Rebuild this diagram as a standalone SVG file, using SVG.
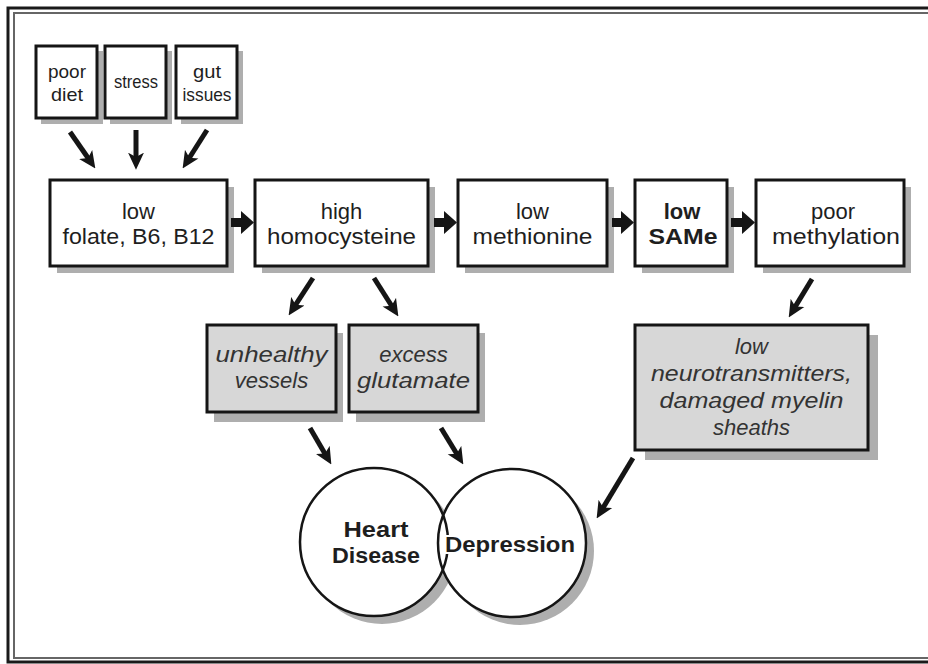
<svg xmlns="http://www.w3.org/2000/svg" width="928" height="664" viewBox="0 0 928 664">
<defs>
<style>
.box{fill:#fff;stroke:#151515;stroke-width:3}
.gbox{fill:#d7d7d7;stroke:#151515;stroke-width:3}
.sh{fill:#aeaeae}
.t{font-family:"Liberation Sans","DejaVu Sans",sans-serif;font-size:22px;fill:#1e1e1e;text-anchor:middle}
.tb{font-weight:bold}
.ti{font-style:italic;fill:#333}
.ts{font-family:"Liberation Sans","DejaVu Sans",sans-serif;font-size:19px;fill:#1e1e1e;text-anchor:middle}
.arr{stroke:#151515;stroke-width:5;fill:none;marker-end:url(#ah)}
.harr{fill:#151515}
.circs{fill:none;stroke:#151515;stroke-width:2.5}
</style>
<marker id="ah" viewBox="0 0 16 16" refX="6" refY="8" markerWidth="17" markerHeight="17" markerUnits="userSpaceOnUse" orient="auto">
<path d="M0,0.5 L16,8 L0,15.5 L4,8 z" fill="#151515"/>
</marker>
</defs>
<rect width="928" height="664" fill="#fff"/>
<g id="frame" fill="none">
<path d="M928,8 H8 V662 H928" stroke="#1a1a1a" stroke-width="3"/>
<path d="M928,13 H14 V658 H928" stroke="#666" stroke-width="2"/>
</g>

<g id="poor-diet">
<rect class="sh" x="41" y="51" width="62" height="73"/>
<rect class="box" x="36" y="46" width="61" height="72"/>
<text class="ts" x="67" y="78" textLength="38" lengthAdjust="spacingAndGlyphs">poor</text>
<text class="ts" x="67" y="101" textLength="32" lengthAdjust="spacingAndGlyphs">diet</text>
</g>
<g id="stress">
<rect class="sh" x="110" y="51" width="62" height="73"/>
<rect class="box" x="105" y="46" width="61" height="72"/>
<text class="ts" x="136" y="88" textLength="44" lengthAdjust="spacingAndGlyphs">stress</text>
</g>
<g id="gut-issues">
<rect class="sh" x="181" y="51" width="62" height="73"/>
<rect class="box" x="176" y="46" width="61" height="72"/>
<text class="ts" x="207" y="78" textLength="28" lengthAdjust="spacingAndGlyphs">gut</text>
<text class="ts" x="207" y="101" textLength="49" lengthAdjust="spacingAndGlyphs">issues</text>
</g>

<g id="low-folate">
<rect class="sh" x="57" y="187" width="177" height="86"/>
<rect class="box" x="50" y="180" width="177" height="86"/>
<text class="t" x="138.5" y="219">low</text>
<text class="t" x="138.5" y="244" textLength="152" lengthAdjust="spacingAndGlyphs">folate, B6, B12</text>
</g>
<g id="high-homocysteine">
<rect class="sh" x="262" y="187" width="173" height="86"/>
<rect class="box" x="255" y="180" width="173" height="86"/>
<text class="t" x="341.5" y="219">high</text>
<text class="t" x="341.5" y="244" textLength="149" lengthAdjust="spacingAndGlyphs">homocysteine</text>
</g>
<g id="low-methionine">
<rect class="sh" x="465" y="187" width="149" height="86"/>
<rect class="box" x="458" y="180" width="149" height="86"/>
<text class="t" x="532.5" y="219">low</text>
<text class="t" x="532.5" y="244" textLength="120" lengthAdjust="spacingAndGlyphs">methionine</text>
</g>
<g id="low-same">
<rect class="sh" x="642" y="187" width="92" height="86"/>
<rect class="box" x="635" y="180" width="92" height="86"/>
<text class="t tb" x="682" y="219">low</text>
<text class="t tb" x="683" y="244" textLength="69" lengthAdjust="spacingAndGlyphs">SAMe</text>
</g>
<g id="poor-methylation">
<rect class="sh" x="763" y="187" width="148" height="86"/>
<rect class="box" x="756" y="180" width="148" height="86"/>
<text class="t" x="833" y="219">poor</text>
<text class="t" x="836" y="244" textLength="128" lengthAdjust="spacingAndGlyphs">methylation</text>
</g>

<g id="unhealthy-vessels">
<rect class="sh" x="214" y="333" width="129" height="89"/>
<rect class="gbox" x="207" y="325" width="129" height="87"/>
<text class="t ti" x="271.5" y="362" textLength="112" lengthAdjust="spacingAndGlyphs">unhealthy</text>
<text class="t ti" x="271.5" y="388">vessels</text>
</g>
<g id="excess-glutamate">
<rect class="sh" x="356" y="333" width="129" height="89"/>
<rect class="gbox" x="349" y="325" width="129" height="87"/>
<text class="t ti" x="413.5" y="362">excess</text>
<text class="t ti" x="413.5" y="388" textLength="113" lengthAdjust="spacingAndGlyphs">glutamate</text>
</g>
<g id="low-neurotransmitters">
<rect class="sh" x="645" y="335" width="233" height="125"/>
<rect class="gbox" x="635" y="325" width="233" height="125"/>
<text class="t ti" x="751.5" y="354">low</text>
<text class="t ti" x="751.5" y="381" textLength="201" lengthAdjust="spacingAndGlyphs">neurotransmitters,</text>
<text class="t ti" x="751.5" y="408" textLength="184" lengthAdjust="spacingAndGlyphs">damaged myelin</text>
<text class="t ti" x="751.5" y="435">sheaths</text>
</g>

<g id="venn-shadows">
<circle cx="382" cy="550" r="74" fill="#aeaeae"/>
<circle cx="520" cy="551" r="74" fill="#aeaeae"/>
<circle cx="374" cy="542" r="74" fill="#fff"/>
<circle cx="512" cy="543" r="74" fill="#fff"/>
</g>
<g id="heart-disease">
<circle class="circs" cx="374" cy="542" r="74"/>
<text class="t tb" x="376" y="537" font-size="23" textLength="65" lengthAdjust="spacingAndGlyphs">Heart</text>
<text class="t tb" x="376" y="563" font-size="23" textLength="88" lengthAdjust="spacingAndGlyphs">Disease</text>
</g>
<g id="depression">
<circle class="circs" cx="512" cy="543" r="74"/>
<text class="t tb" x="510" y="552" font-size="23" textLength="130" lengthAdjust="spacingAndGlyphs" stroke="#fff" stroke-width="4" paint-order="stroke">Depression</text>
</g>

<g id="connectors">
<line class="arr" x1="70" y1="132" x2="89.3" y2="159.8"/>
<line class="arr" x1="136" y1="130" x2="136" y2="159"/>
<line class="arr" x1="207" y1="130" x2="188.3" y2="159.5"/>
<path class="harr" d="M231,218 H241 V211 L254,222.5 L241,234 V227 H231 z"/>
<path class="harr" d="M434,218 H444 V211 L457,222.5 L444,234 V227 H434 z"/>
<path class="harr" d="M612,218 H621 V211 L634,222.5 L621,234 V227 H612 z"/>
<path class="harr" d="M731,218 H742 V211 L755,222.5 L742,234 V227 H731 z"/>
<line class="arr" x1="313" y1="278" x2="294.4" y2="306.6"/>
<line class="arr" x1="374" y1="278" x2="392.7" y2="307.5"/>
<line class="arr" x1="812" y1="279" x2="794.2" y2="308.4"/>
<line class="arr" x1="310" y1="428" x2="326" y2="455.4"/>
<line class="arr" x1="441" y1="428" x2="457.8" y2="455.5"/>
<line class="arr" x1="633" y1="458" x2="602.1" y2="509.4"/>
</g>
</svg>
